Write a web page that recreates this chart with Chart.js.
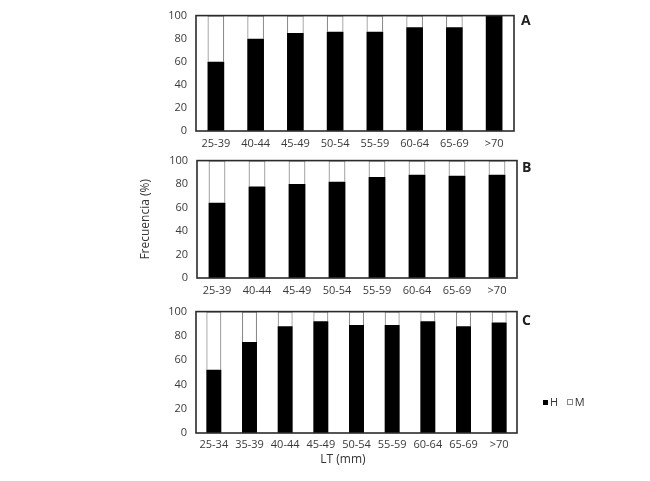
<!DOCTYPE html>
<html>
<head>
<meta charset="utf-8">
<script src="https://cdn.jsdelivr.net/npm/chart.js@4/dist/chart.umd.min.js"></script>
<style>
  body { margin: 0; background: #fff; }
  #wrap { position: relative; width: 650px; height: 481px; background: #fff; font-family: "Open Sans", sans-serif; color: #333; }
  canvas { position: absolute; left: 0; }
  .panel { position: absolute; font-weight: bold; font-size: 14px; color: #222; line-height: 14px; }
  #xtitle { position: absolute; left: 300px; width: 86px; text-align: center; top: 451px; font-size: 12px; line-height: 16px; }
  #legend { position: absolute; left: 543px; top: 395px; font-size: 11px; line-height: 14px; white-space: nowrap; }
  .sq { display: inline-block; width: 5px; height: 5px; margin-right: 2px; vertical-align: 1px; }
</style>
</head>
<body>
<div id="wrap">
  <canvas id="chartA" width="650" height="150" style="top:0px"></canvas>
  <canvas id="chartB" width="650" height="150" style="top:145px"></canvas>
  <canvas id="chartC" width="650" height="160" style="top:296px"></canvas>
  <div class="panel" style="left:521px; top:13px">A</div>
  <div class="panel" style="left:522px; top:160px">B</div>
  <div class="panel" style="left:522px; top:313px">C</div>
  <div id="xtitle">LT (mm)</div>
  <div id="legend"><span class="sq" style="background:#000"></span>H&nbsp;&nbsp;&nbsp;<span class="sq" style="background:#fff; border:1px solid #888; width:4px; height:4px"></span>M</div>
</div>
<script>
// size classes (LT, mm)
const classesAB = ["25-39", "40-44", "45-49", "50-54", "55-59", "60-64", "65-69", ">70"];
const classesC = ["25-34", "35-39", "40-44", "45-49", "50-54", "55-59", "60-64", "65-69", ">70"];

// percentage of H and M per class
const hA = [60, 80, 85, 86, 86, 90, 90, 100];
const mA = [40, 20, 15, 14, 14, 10, 10, 0];
const hB = [64, 78, 80, 82, 86, 88, 87, 88];
const mB = [36, 22, 20, 18, 14, 12, 13, 12];
const hC = [52, 75, 88, 92, 89, 89, 92, 88, 91];
const mC = [48, 25, 12, 8, 11, 11, 8, 12, 9];

const yTicks = [0, 20, 40, 60, 80, 100];

// box around the plot area
const frame = {
  id: "frame",
  afterDatasetsDraw(chart) {
    const a = chart.chartArea;
    const ctx = chart.ctx;
    ctx.save();
    ctx.strokeStyle = "#2b2b2b";
    ctx.lineWidth = 1.6;
    ctx.strokeRect(a.left, a.top, a.right - a.left, a.bottom - a.top);
    ctx.restore();
  },
};

const tickFont = { family: "Open Sans", size: 11 };

const makePanel = (id, labels, h, m, opts) => {
  const ctx = document.getElementById(id).getContext("2d");
  return new Chart(ctx, {
    type: "bar",
    data: {
      labels: labels,
      datasets: [
        {
          label: "H",
          data: h,
          backgroundColor: "#000",
          borderColor: "#000",
          borderWidth: 0,
          categoryPercentage: 1,
          barPercentage: 0.42,
        },
        {
          label: "M",
          data: m,
          backgroundColor: "#fff",
          borderColor: "#8a8a8a",
          borderWidth: 1.2,
          borderSkipped: "bottom",
          categoryPercentage: 1,
          barPercentage: 0.42,
        },
      ],
    },
    options: {
      responsive: false,
      animation: false,
      layout: {
        padding: { left: opts.left, right: opts.right, top: 14, bottom: 0 },
      },
      plugins: {
        legend: { display: false },
        tooltip: { enabled: false },
      },
      scales: {
        x: {
          stacked: true,
          grid: { display: false, drawTicks: false },
          border: { display: false },
          ticks: { font: tickFont, color: "#3a3a3a", padding: opts.xPad, maxRotation: 0, autoSkip: false },
          afterFit: (scale) => { scale.height = opts.xHeight; },
        },
        y: {
          stacked: true,
          min: 0,
          max: 100,
          afterBuildTicks: (scale) => { scale.ticks = yTicks.map((v) => ({ value: v })); },
          grid: { display: false, drawTicks: false },
          border: { display: false },
          ticks: { font: tickFont, color: "#3a3a3a", padding: 9 },
          title: opts.yTitle
            ? { display: true, text: opts.yTitle, font: { family: "Open Sans", size: 12 }, color: "#333", padding: { top: 4, bottom: 2 } }
            : { display: false },
          afterFit: (scale) => { scale.width = opts.yWidth; },
        },
      },
    },
    plugins: [frame],
  });
};

makePanel("chartA", classesAB, hA, mA, { left: 156, right: 136, yWidth: 40, xHeight: 19, xPad: 6 });
makePanel("chartB", classesAB, hB, mB, { left: 134, right: 133, yWidth: 63, xHeight: 17, xPad: 6, yTitle: "Frecuencia (%)" });
makePanel("chartC", classesC, hC, mC, { left: 156, right: 133, yWidth: 40, xHeight: 23, xPad: 5 });
</script>
</body>
</html>
